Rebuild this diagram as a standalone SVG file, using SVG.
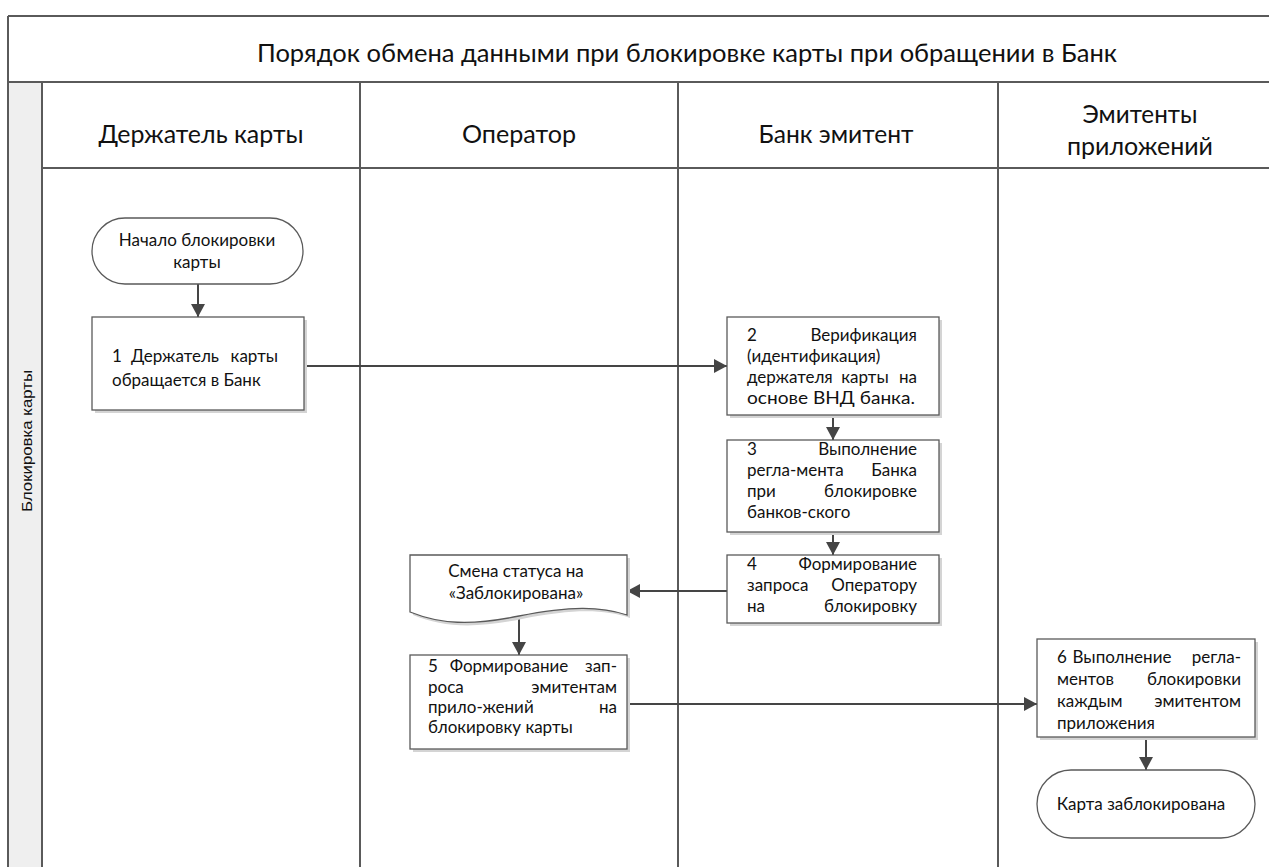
<svg xmlns="http://www.w3.org/2000/svg" width="1269" height="867" viewBox="0 0 1269 867">
<style>
.lane{stroke:#5a5a5a;stroke-width:2;fill:none}
.box{fill:#fff;stroke:#5a5a5a;stroke-width:1.3}
.sh{fill:#d4d4d4}
.t{font-family:Lato,"Noto Sans",sans-serif;font-size:17px;fill:#111}
.h{font-family:Lato,"Noto Sans",sans-serif;font-size:25px;fill:#111}
.v{font-family:"Liberation Sans",Arial,sans-serif;font-size:14px;fill:#111}
.m{text-anchor:middle}
.e{text-anchor:end}
.c{stroke:#454545;stroke-width:2;fill:none;marker-end:url(#ah)}
</style>
<defs>
<marker id="ah" markerUnits="userSpaceOnUse" markerWidth="14" markerHeight="16" refX="13" refY="8" orient="auto">
<path d="M0,1 L13,8 L0,15 Z" fill="#454545"/>
</marker>
</defs>
<rect width="1269" height="867" fill="#fff"/>
<g id="pool">
<rect x="8" y="82" width="34" height="790" fill="#efefef"/>
<path class="lane" d="M8,16 H1275 M8,82 H1275 M42,168 H1275 M8,16 V870 M42,82 V870 M360,82 V870 M678,82 V870 M998,82 V870"/>
<text class="h m" x="687" y="62" textLength="860" lengthAdjust="spacingAndGlyphs">Порядок обмена данными при блокировке карты при обращении в Банк</text>
<text class="h m" x="201" y="143" textLength="205" lengthAdjust="spacingAndGlyphs">Держатель карты</text>
<text class="h m" x="519" y="143" textLength="114" lengthAdjust="spacingAndGlyphs">Оператор</text>
<text class="h m" x="836" y="143" textLength="155" lengthAdjust="spacingAndGlyphs">Банк эмитент</text>
<text class="h m" x="1140" y="123" textLength="115" lengthAdjust="spacingAndGlyphs">Эмитенты</text>
<text class="h m" x="1140" y="155" textLength="146" lengthAdjust="spacingAndGlyphs">приложений</text>
<text class="v m" transform="translate(32,441) rotate(-90)" textLength="142" lengthAdjust="spacingAndGlyphs">Блокировка карты</text>
</g>
<g id="connectors">
<line class="c" x1="198" y1="284" x2="198" y2="317"/>
<line class="c" x1="304" y1="366" x2="727" y2="366"/>
<line class="c" x1="833" y1="415" x2="833" y2="440"/>
<line class="c" x1="833" y1="532" x2="833" y2="555"/>
<line class="c" x1="727" y1="591" x2="627" y2="591"/>
<line class="c" x1="519" y1="616" x2="519" y2="655"/>
<line class="c" x1="627" y1="704" x2="1037" y2="704"/>
<line class="c" x1="1146" y1="737" x2="1146" y2="770"/>
</g>
<g id="start">
<rect class="box" x="92" y="218" width="211" height="66" rx="33"/>
<text class="t m" x="197" y="246">Начало блокировки</text>
<text class="t m" x="197" y="268">карты</text>
</g>
<g id="n1">
<rect class="sh" x="95" y="320" width="212" height="93"/>
<rect class="box" x="92" y="317" width="212" height="93"/>
<text class="t" x="112" y="362">1</text>
<text class="t m" x="175" y="362">Держатель</text>
<text class="t e" x="278" y="362">карты</text>
<text class="t" x="112" y="386">обращается в Банк</text>
</g>
<g id="n2">
<rect class="sh" x="730" y="320" width="212" height="98"/>
<rect class="box" x="727" y="317" width="212" height="98"/>
<text class="t" x="747" y="341">2</text>
<text class="t e" x="917" y="341">Верификация</text>
<text class="t" x="747" y="362">(идентификация)</text>
<text class="t" x="747" y="383">держателя</text>
<text class="t m" x="865" y="383">карты</text>
<text class="t e" x="917" y="383">на</text>
<text class="t" x="747" y="404" textLength="168" lengthAdjust="spacingAndGlyphs">основе ВНД банка.</text>
</g>
<g id="n3">
<rect class="sh" x="730" y="443" width="212" height="92"/>
<rect class="box" x="727" y="440" width="212" height="92"/>
<text class="t" x="747" y="455">3</text>
<text class="t e" x="917" y="455">Выполнение</text>
<text class="t" x="747" y="476">регла-мента</text>
<text class="t e" x="917" y="476">Банка</text>
<text class="t" x="747" y="497">при</text>
<text class="t e" x="917" y="497">блокировке</text>
<text class="t" x="747" y="518">банков-ского</text>
</g>
<g id="n4">
<rect class="sh" x="730" y="558" width="212" height="68"/>
<rect class="box" x="727" y="555" width="212" height="68"/>
<text class="t" x="747" y="570">4</text>
<text class="t e" x="917" y="570">Формирование</text>
<text class="t" x="747" y="591">запроса</text>
<text class="t e" x="917" y="591">Оператору</text>
<text class="t" x="747" y="612">на</text>
<text class="t e" x="917" y="612">блокировку</text>
</g>
<g id="doc">
<path class="sh" d="M413,558 H630 V618 C603,609 573,609 522,619 C473,629 443,627 413,615 Z"/>
<path class="box" d="M410,555 H627 V615 C600,606 570,606 519,616 C470,626 440,624 410,612 Z"/>
<text class="t m" x="516" y="577">Смена статуса на</text>
<text class="t m" x="516" y="599">«Заблокирована»</text>
</g>
<g id="n5">
<rect class="sh" x="413" y="658" width="217" height="94"/>
<rect class="box" x="410" y="655" width="217" height="94"/>
<text class="t" x="428" y="672">5</text>
<text class="t m" x="509" y="672">Формирование</text>
<text class="t e" x="617" y="672">зап-</text>
<text class="t" x="428" y="693">роса</text>
<text class="t e" x="617" y="693">эмитентам</text>
<text class="t" x="428" y="713">прило-жений</text>
<text class="t e" x="617" y="713">на</text>
<text class="t" x="428" y="733">блокировку карты</text>
</g>
<g id="n6">
<rect class="sh" x="1040" y="642" width="218" height="98"/>
<rect class="box" x="1037" y="639" width="218" height="98"/>
<text class="t" x="1057" y="663">6</text>
<text class="t m" x="1122" y="663">Выполнение</text>
<text class="t e" x="1241" y="663">регла-</text>
<text class="t" x="1057" y="685">ментов</text>
<text class="t e" x="1241" y="685">блокировки</text>
<text class="t" x="1057" y="707">каждым</text>
<text class="t e" x="1241" y="707">эмитентом</text>
<text class="t" x="1057" y="729">приложения</text>
</g>
<g id="end">
<rect class="box" x="1037" y="770" width="218" height="68" rx="34"/>
<text class="t m" x="1141" y="810">Карта заблокирована</text>
</g>
</svg>
